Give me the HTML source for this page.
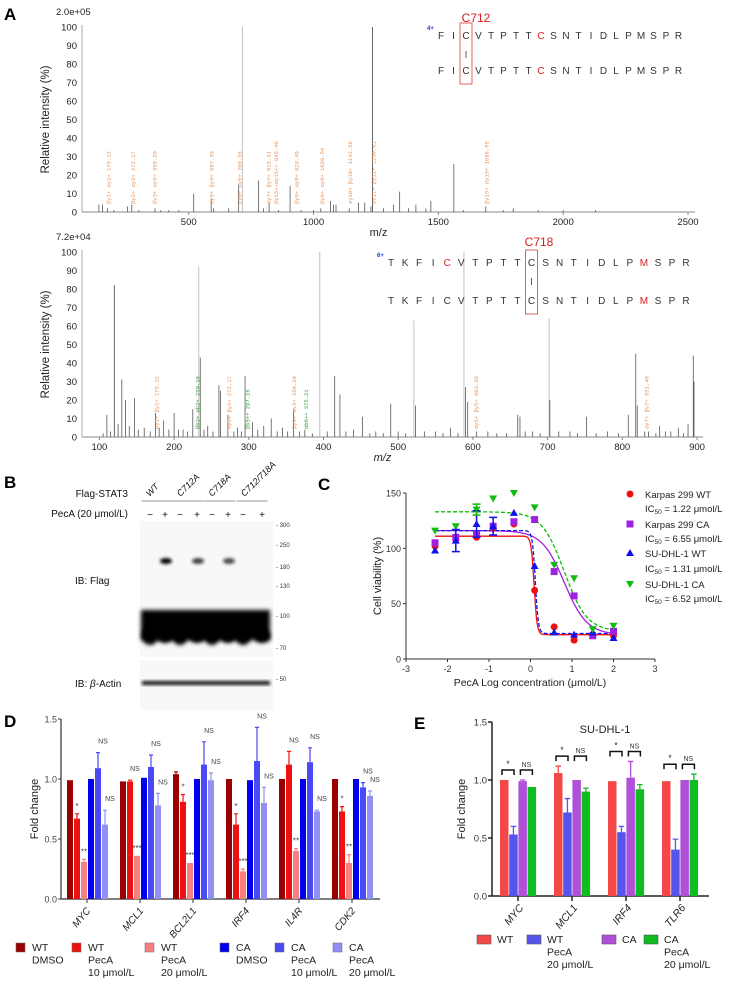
<!DOCTYPE html>
<html><head><meta charset="utf-8">
<style>
html,body{margin:0;padding:0;background:#fff;}
svg{display:block;font-family:"Liberation Sans",sans-serif;}
.lbl{font-weight:bold;font-size:17px;}
</style></head>
<body>
<svg id="fig" width="733" height="982" viewBox="0 0 733 982" xmlns="http://www.w3.org/2000/svg">
<defs>
<filter id="blur1" x="-20%" y="-50%" width="140%" height="200%"><feGaussianBlur stdDeviation="1.6"/></filter>
<filter id="blur2" x="-20%" y="-50%" width="140%" height="200%"><feGaussianBlur stdDeviation="2"/></filter>
</defs>
<text class="lbl" x="4" y="20">A</text>
<text class="lbl" x="4" y="488">B</text>
<text class="lbl" x="318" y="490">C</text>
<text class="lbl" x="4" y="727">D</text>
<text class="lbl" x="414" y="729">E</text>
<g id="specTop"></g>
<g id="specBot"></g>
<g id="blot"></g>
<g id="viab"></g>
<g id="barD"></g>
<g id="barE"></g>
</svg>
<script>
// ---------- DATA ----------
const topMz   = [140,155,175,200,255,272,300,365,388,420,460,520,590,600,660,700,715,780,800,822,860,906,950,1000,1029,1068,1080,1090,1143,1180,1205,1230,1236,1280,1320,1345,1380,1410,1450,1470,1562,1600,1690,1760,1800,1900,2000,2130];
const topInt  = [4,4,2,1,3,4,1,2,1,1,1,10,7,2,2,15,100,17,2,5,1,14,1,1,2,6,4,4,2,5,5,3,100,2,4,11,2,4,2,6,26,1,3,1,2,1,1,1];
const topAnnMz = [175,272,359,587,700,815,845,928,1029,1143,1236,1689];
const topAnnTx = ["βy1+ αy1+ 175.12","βy2+ αy2+ 272.17","βy3+ αy3+ 359.20","αy5+ βy5+ 587.30","βy6+ αy6+ 700.38","αy7+ βy7+ 815.41","βy15++αy15++ 845.40","βy8+ αy8+ 928.49","βy9+ αy9+ 1029.54","αy10+ βy10+ 1143.58","αy11+ βy11+ 1230.61","βy15+ αy15+ 1689.88"];
const topTicks = [500,1000,1500,2000,2500];
const botMz  = [105,110,115,120,125,130,135,140,147,152,160,168,175,180,186,193,200,206,212,218,225,233,235,240,245,252,260,262,272,280,285,290,295,305,312,320,330,338,345,352,360,368,375,385,395,405,415,422,430,440,452,462,470,480,490,500,510,521,523,535,550,560,570,580,588,590,593,605,620,632,645,660,663,670,680,690,702,703,715,730,740,752,765,780,795,808,818,820,830,835,845,850,858,865,875,882,888,895,896];
const botInt = [2,12,3,82,7,31,20,6,21,4,5,3,13,5,9,4,13,4,4,3,15,92,43,4,6,3,28,25,12,3,5,3,33,8,4,6,10,3,5,3,15,3,4,2,100,3,33,23,3,4,11,2,3,2,18,3,2,63,17,3,3,2,5,2,100,27,19,3,3,2,2,12,11,3,3,2,64,20,3,3,2,11,2,3,2,12,45,17,3,3,2,6,3,3,5,2,7,44,30];
const botAnnMz = [175,230,272,297,359,375,603,831];
const botAnnTx = ["αy1+ βy1+ 175.12","βb2+ αb2+ 230.15","αy2+ βy2+ 272.17","βb5++ 297.15","βy3+ αy3+ 359.20","αb6++ 375.21","αy5+ βy5+ 603.30","αy7+ βy7+ 831.40"];
const botAnnC = ["#e8935a","#2e9a2e","#e8935a","#2e9a2e","#e8935a","#2e9a2e","#e8935a","#e8935a"];
const botTicks = [100,200,300,400,500,600,700,800,900];
const yTicksA = [0,10,20,30,40,50,60,70,80,90,100];

const mwLabels = ["300","250","180","130","100","70","50"];
const mwY = [525,545,567,586,616,648,679];
const laneSigns = ["−","+","−","+","−","+","−","+"];
const upperBand = [0.1,1,0.05,0.75,0.1,0.7,0,0.05];

const logConc = [-2.3,-1.8,-1.3,-0.9,-0.4,0.1,0.57,1.05,1.5,2.0];
const kWT = [102,108,110,118,122,62,29,17,22,21];
const kCA = [105,110,113,120,124,126,79,57,21,25];
const sWT = [98,107,122,120,132,84,24,22,24,19];
const sCA = [116,120,135,145,150,137,85,73,27,30];
const fitTop = [111,116,116,133];
const fitBot = [22,22,23,25];
const fitLogIC = [0.087,0.816,0.117,0.814];
const fitHill = [12,1.6,12,1.6];
const legendC = ["Karpas 299 WT","Karpas 299 CA","SU-DHL-1 WT","SU-DHL-1 CA"];
const legendIC = ["1.22","6.55","1.31","6.52"];

const genesD = ["MYC","MCL1","BCL2L1","IRF4","IL4R","CDK2"];
const valsD = [[0.99,0.67,0.31,1.0,1.09,0.62],[0.98,0.98,0.36,1.01,1.10,0.78],[1.04,0.81,0.30,1.0,1.12,0.99],[1.0,0.62,0.23,0.99,1.15,0.80],[1.0,1.12,0.40,1.0,1.14,0.73],[1.0,0.73,0.30,1.0,0.93,0.86]];
const errD = [[0,0.04,0.02,0,0.13,0.12],[0,0.01,0,0,0.10,0.10],[0.02,0.06,0,0,0.19,0.06],[0,0.09,0.02,0,0.28,0.13],[0,0.11,0.02,0,0.12,0.01],[0,0.04,0.07,0,0.04,0.04]];
const sigD = [["","*","**","","NS","NS"],["","NS","***","","NS","NS"],["","*","***","","NS","NS"],["","*","***","","NS","NS"],["","NS","**","","NS","NS"],["","*","**","","NS","NS"]];
const ticksD = [0,0.5,1.0,1.5];
const tickLabD = ["0.0","0.5","1.0","1.5"];

const genesE = ["MYC","MCL1","IRF4","TLR6"];
const valsE = [[1.0,0.53,0.99,0.94],[1.06,0.72,1.0,0.90],[0.99,0.55,1.02,0.92],[0.99,0.40,1.0,1.0]];
const errE = [[0,0.07,0.01,0],[0.06,0.12,0,0.03],[0,0.05,0.14,0.04],[0,0.09,0,0.05]];
const sigE = [["*","NS"],["*","NS"],["*","NS"],["*","NS"]];

// ---------- helpers ----------
const NS="http://www.w3.org/2000/svg";
function mk(parent,tag,attrs,text){const e=document.createElementNS(NS,tag);for(const k in attrs)e.setAttribute(k,attrs[k]);if(text!==undefined)e.textContent=text;parent.appendChild(e);return e;}

// ---------- Spectra ----------
function spectrum(g,o){
  const xs=v=>o.x0+(v-o.d0)/(o.d1-o.d0)*(o.x1-o.x0);
  const ys=v=>o.y0-(v/100)*(o.y0-o.y100);
  let t=mk(g,'text',{x:o.x0-26,y:o.y100-12,'font-size':9.5,fill:'#222'},o.scale);
  
  
  let ax=mk(g,'line',{x1:o.x0,y1:o.y100-2,x2:o.x0,y2:o.y0,stroke:'#aaa','stroke-width':1});
  
  
  let bx=mk(g,'line',{x1:o.x0,y1:o.y0,x2:o.xEnd,y2:o.y0,stroke:'#888','stroke-width':1});
  
  
  yTicksA.forEach(v=>{
    let l=mk(g,'text',{x:o.x0-5,y:ys(v)+3.5,'font-size':9.5,'text-anchor':'end',fill:'#222'},v);
    
    
  });
  o.ticks.forEach(v=>{
    mk(g,'line',{x1:xs(v),y1:o.y0,x2:xs(v),y2:o.y0+3,stroke:'#888'});
    let l=mk(g,'text',{x:xs(v),y:o.y0+13,'font-size':9.5,'text-anchor':'middle',fill:'#222'},v);
    
    
  });
  let yl=mk(g,'text',{transform:`translate(${o.x0-33},${(o.y0+o.y100)/2}) rotate(-90)`,'font-size':11.5,'text-anchor':'middle',fill:'#222'},'Relative intensity (%)');
  
  
  let xl=mk(g,'text',{x:(o.x0+o.xEnd)/2-10,y:o.y0+24,'font-size':11,'text-anchor':'middle',fill:'#222','font-style':o.italic?'italic':'normal'},'m/z');
  
  
  o.mz.forEach((m,i)=>{
    const big=o.inten[i]>50;
    let p=mk(g,'line',{x1:xs(m),y1:o.y0,x2:xs(m),y2:ys(o.inten[i]),stroke:big&&o.light.includes(m)?'#bbb':'#555','stroke-width':big?0.9:0.8});
    
    
  });
  o.annMz.forEach((m,i)=>{
    const yy=o.y0-8;
    let a=mk(g,'text',{transform:`translate(${xs(m)+3},${yy}) rotate(-90)`,'font-size':5.5,fill:o.annC?o.annC[i]:'#e8935a','font-family':'Liberation Mono, monospace'},o.annTx[i]);
    
    
  });
}
spectrum(document.getElementById('specTop'),{x0:82,x1:688,xEnd:695,d0:72.5,d1:2500,y0:212,y100:27,mz:topMz,inten:topInt,ticks:topTicks,scale:'2.0e+05',annMz:topAnnMz,annTx:topAnnTx,light:[715],italic:false});
spectrum(document.getElementById('specBot'),{x0:82,x1:697,xEnd:703,d0:76.7,d1:900,y0:437,y100:252,mz:botMz,inten:botInt,ticks:botTicks,scale:'7.2e+04',annMz:botAnnMz,annTx:botAnnTx,annC:botAnnC,light:[233,395,521,588,702],italic:true});

// peptide sequences
function peptide(g,letters,x0,dx,ys,redIdx,boxIdx,title,tx,charge,cy){
  let ti=mk(g,'text',{x:tx,y:cy,'font-size':12,fill:'#d42020','text-anchor':'middle'},title);
  
  
  let ch=mk(g,'text',{x:x0-14,y:ys[0]-9,'font-size':6,fill:'#2233dd','font-weight':'bold'},charge);
  
  
  ys.forEach((y,r)=>{
    letters.forEach((L,i)=>{
      let red=redIdx[r].includes(i);
      let t=mk(g,'text',{x:x0+i*dx,y:y,'font-size':10,'text-anchor':'middle',fill:red?'#d42020':'#333'},L);
      
      
    });
  });
  const bx=x0+boxIdx*dx;
  let b=mk(g,'rect',{x:bx-6,y:ys[0]-16,width:12,height:ys[1]-ys[0]+26,fill:'none',stroke:'#e06060','stroke-width':1});
  
  
  mk(g,'line',{x1:bx,y1:ys[0]+12,x2:bx,y2:ys[0]+19,stroke:'#333','stroke-width':0.8});
}
const pepTop="FICVTPTTCSNTIDLPMSPR".split("");
peptide(document.getElementById('specTop'),pepTop,441,12.5,[39,74],[[8],[8]],2,"C712",476,"4+",22);
const pepBot="TKFICVTPTTCSNTIDLPMSPR".split("");
peptide(document.getElementById('specBot'),pepBot,391,14.05,[266,304],[[4,18],[18]],10,"C718",539,"6+",246);

// ---------- Western blot ----------
(function(){
  const g=document.getElementById('blot');
  const laneX=[150,165,180,197,212,228,243,262];
  let h=mk(g,'text',{x:128,y:497,'font-size':10,'text-anchor':'end',fill:'#111'},'Flag-STAT3');
  
  
  let p=mk(g,'text',{x:128,y:517,'font-size':10,'text-anchor':'end',fill:'#111'},'PecA (20 μmol/L)');
  
  
  ["WT","C712A","C718A","C712/718A"].forEach((s,i)=>{
    const cx=(laneX[2*i]+laneX[2*i+1])/2;
    mk(g,'line',{x1:cx-16,y1:501,x2:cx+15,y2:501,stroke:'#aaa','stroke-width':1.2});
    let t=mk(g,'text',{transform:`translate(${cx-8},${497}) rotate(-45)`,'font-size':9,'font-style':'italic',fill:'#111'},s);
    
    
  });
  laneSigns.forEach((s,i)=>{
    let t=mk(g,'text',{x:laneX[i],y:518,'font-size':10,'text-anchor':'middle',fill:'#111'},s);
    
    
  });
  mk(g,'rect',{x:140,y:521,width:133,height:136,fill:'#f8f8f8'});
  mk(g,'rect',{x:140,y:660,width:133,height:50,fill:'#f8f8f8'});
  let mb=mk(g,'rect',{x:141,y:610,width:129,height:30,fill:'#000',filter:'url(#blur2)'});
  
  
  laneX.forEach((x,i)=>{
    mk(g,'ellipse',{cx:x,cy:636,rx:8,ry:9-(i%2)*2,fill:'#000',filter:'url(#blur2)'});
    if(upperBand[i]>0.3){let b=mk(g,'ellipse',{cx:x+1,cy:561,rx:6,ry:3,fill:'#000','opacity':upperBand[i],filter:'url(#blur1)'});
      
      }
  });
  let ab=mk(g,'rect',{x:142,y:681,width:128,height:4,fill:'#111',filter:'url(#blur1)'});
  
  
  mwLabels.forEach((m,i)=>{
    let t=mk(g,'text',{x:276,y:mwY[i]+2,'font-size':6,fill:'#333'},'- '+m);
    
    
  });
  let f=mk(g,'text',{x:75,y:584,'font-size':10,fill:'#111'},'IB: Flag');
  
  
  let a=mk(g,'text',{x:75,y:687,'font-size':10,fill:'#111'});
  
  
  a.innerHTML='IB: <tspan font-style="italic">β</tspan>-Actin';
})();

// ---------- Viability chart ----------
(function(){
  const g=document.getElementById('viab');
  const X0=406,X1=655,Y0=659,Y150=493;
  const xs=v=>X0+(v+3)/6*(X1-X0);
  const ys=v=>Y0-v/150*(Y0-Y150);
  mk(g,'line',{x1:X0,y1:Y150,x2:X0,y2:Y0,stroke:'#333'});
  mk(g,'line',{x1:X0,y1:Y0,x2:X1,y2:Y0,stroke:'#333'});
  [0,50,100,150].forEach(v=>{mk(g,'line',{x1:X0-3,y1:ys(v),x2:X0,y2:ys(v),stroke:'#333'});
    let t=mk(g,'text',{x:X0-5,y:ys(v)+3.5,'font-size':9,'text-anchor':'end',fill:'#333'},v);
    
    });
  [-3,-2,-1,0,1,2,3].forEach(v=>{mk(g,'line',{x1:xs(v),y1:Y0,x2:xs(v),y2:Y0+3,stroke:'#333'});
    let t=mk(g,'text',{x:xs(v),y:Y0+13,'font-size':9,'text-anchor':'middle',fill:'#333'},v);
    
    });
  let xl=mk(g,'text',{x:530,y:686,'font-size':10.5,'text-anchor':'middle',fill:'#222'},'PecA Log concentration (μmol/L)');
  
  
  let yl=mk(g,'text',{transform:`translate(381,576) rotate(-90)`,'font-size':11,'text-anchor':'middle',fill:'#222'},'Cell viability (%)');
  
  
  const cols=['#ee1111','#a020e0','#1111ee','#11bb11'];
  const dash=[null,null,'4,2','4,2'];
  const series=[kWT,kCA,sWT,sCA];
  series.forEach((s,k)=>{
    let d='';
    for(let v=-2.3;v<=2.0001;v+=0.02){const y=fitBot[k]+(fitTop[k]-fitBot[k])/(1+Math.pow(10,(v-fitLogIC[k])*fitHill[k]));d+=(d?'L':'M')+xs(v).toFixed(1)+','+ys(y).toFixed(1);}
    const at={d:d,fill:'none',stroke:cols[k],'stroke-width':1.3};if(dash[k])at['stroke-dasharray']=dash[k];
    let c=mk(g,'path',at);
    
    
  });
  function marker(k,x,y){
    let m;
    if(k===0)m=mk(g,'circle',{cx:x,cy:y,r:3.5,fill:cols[0]});
    else if(k===1)m=mk(g,'rect',{x:x-3.5,y:y-3.5,width:7,height:7,fill:cols[1]});
    else if(k===2)m=mk(g,'path',{d:`M${x},${y-4}L${x+4},${y+3}L${x-4},${y+3}Z`,fill:cols[2]});
    else m=mk(g,'path',{d:`M${x},${y+4}L${x+4},${y-3}L${x-4},${y-3}Z`,fill:cols[3]});
    return m;
  }
  series.forEach((s,k)=>{
    s.forEach((v,i)=>{
      let m=marker(k,xs(logConc[i]),ys(v));
      
      
    });
  });
  [[2,1,10],[2,2,12],[2,3,8],[3,2,5]].forEach(e=>{
    const k=e[0],i=e[1],er=e[2];const x=xs(logConc[i]),v=series[k][i];
    mk(g,'path',{d:`M${x},${ys(v-er)}L${x},${ys(v+er)}M${x-4},${ys(v-er)}L${x+4},${ys(v-er)}M${x-4},${ys(v+er)}L${x+4},${ys(v+er)}`,stroke:cols[k],'stroke-width':1.5,fill:'none'});
  });
  const ly=[[497,507],[527,537],[556,567],[587,597]];
  legendC.forEach((s,k)=>{
    let m=marker(k,630,ly[k][0]-3);
    
    
    let t=mk(g,'text',{x:645,y:ly[k][0]+1,'font-size':9.5,fill:'#222'},s);
    
    
    let t2=mk(g,'text',{x:645,y:ly[k][1]+5,'font-size':9.5,fill:'#222'});
    
    
    t2.innerHTML='IC<tspan font-size="6.5" dy="2">50</tspan><tspan dy="-2"> = '+legendIC[k]+' μmol/L</tspan>';
  });
})();

// ---------- Bar chart D ----------
(function(){
  const g=document.getElementById('barD');
  const X0=61,XE=380,Y0=899,U=120;
  const ys=v=>Y0-v*U;
  const cols=['#9b0000','#ee1111','#f88080','#0000ee','#4a4af5','#9090f5'];
  mk(g,'line',{x1:X0,y1:ys(1.5),x2:X0,y2:Y0,stroke:'#333','stroke-width':1.2});
  mk(g,'line',{x1:X0,y1:Y0,x2:XE,y2:Y0,stroke:'#333','stroke-width':1.2});
  ticksD.forEach((v,i)=>{mk(g,'line',{x1:X0-3,y1:ys(v),x2:X0,y2:ys(v),stroke:'#333'});
    let t=mk(g,'text',{x:X0-4,y:ys(v)+3.5,'font-size':9,'text-anchor':'end',fill:'#444'},tickLabD[i]);
    
    });
  let yl=mk(g,'text',{transform:`translate(38,${ys(0.75)}) rotate(-90)`,'font-size':11,'text-anchor':'middle',fill:'#222'},'Fold change');
  
  
  genesD.forEach((gn,gi)=>{
    const gx=67+gi*53;
    valsD[gi].forEach((v,bi)=>{
      const x=gx+bi*7;
      let r=mk(g,'rect',{x:x,y:ys(v),width:6,height:v*U,fill:cols[bi]});
      
      
      const e=errD[gi][bi];
      if(e>0){mk(g,'path',{d:`M${x+3},${ys(v)}L${x+3},${ys(v+e)}M${x+1},${ys(v+e)}L${x+5},${ys(v+e)}`,stroke:cols[bi],'stroke-width':1.2,fill:'none'});}
      const s=sigD[gi][bi];
      if(s){let t=mk(g,'text',{x:x+(s==='NS'?8:3),y:ys(v+e)-(s==='NS'?9:5),'font-size':s==='NS'?7:8,'text-anchor':'middle',fill:'#444'},s);
        
        }
    });
    mk(g,'line',{x1:gx+20,y1:Y0,x2:gx+20,y2:Y0+4,stroke:'#333'});
    let t=mk(g,'text',{transform:`translate(${gx+24},${Y0+12}) rotate(-50)`,'font-size':10,'font-style':'italic','text-anchor':'end',fill:'#222'},gn);
    
    
  });
  const legX=[16,72,145,220,275,333];
  const legTx=[["WT","DMSO"],["WT","PecA","10 μmol/L"],["WT","PecA","20 μmol/L"],["CA","DMSO"],["CA","PecA","10 μmol/L"],["CA","PecA","20 μmol/L"]];
  legX.forEach((x,i)=>{
    let r=mk(g,'rect',{x:x,y:943,width:9,height:9,fill:cols[i],stroke:'#666','stroke-width':0.5});
    
    
    legTx[i].forEach((s,j)=>{
      let t=mk(g,'text',{x:x+16,y:951+j*12.5,'font-size':10.5,fill:'#222'},s);
      
      
    });
  });
})();

// ---------- Bar chart E ----------
(function(){
  const g=document.getElementById('barE');
  const X0=492,XE=709,Y0=896,U=116;
  const ys=v=>Y0-v*U;
  const cols=['#f44848','#5555ee','#b050d8','#11bb22'];
  mk(g,'line',{x1:X0,y1:ys(1.5),x2:X0,y2:Y0,stroke:'#222','stroke-width':1.5});
  mk(g,'line',{x1:X0,y1:Y0,x2:XE,y2:Y0,stroke:'#222','stroke-width':1.5});
  ticksD.forEach((v,i)=>{mk(g,'line',{x1:X0-4,y1:ys(v),x2:X0,y2:ys(v),stroke:'#222','stroke-width':1.5});
    let t=mk(g,'text',{x:X0-5,y:ys(v)+3.5,'font-size':9.5,'text-anchor':'end',fill:'#333'},tickLabD[i]);
    
    });
  let yl=mk(g,'text',{transform:`translate(465,${ys(0.75)}) rotate(-90)`,'font-size':11,'text-anchor':'middle',fill:'#222'},'Fold change');
  
  
  let ti=mk(g,'text',{x:605,y:733,'font-size':11,'text-anchor':'middle',fill:'#222'},'SU-DHL-1');
  
  
  genesE.forEach((gn,gi)=>{
    const gx=500+gi*54;
    let tops=[];
    valsE[gi].forEach((v,bi)=>{
      const x=gx+bi*9.2;
      let r=mk(g,'rect',{x:x,y:ys(v),width:8.5,height:v*U,fill:cols[bi]});
      
      
      const e=errE[gi][bi];
      tops.push(v+e);
      if(e>0)mk(g,'path',{d:`M${x+4.25},${ys(v)}L${x+4.25},${ys(v+e)}M${x+1.5},${ys(v+e)}L${x+7},${ys(v+e)}`,stroke:cols[bi],'stroke-width':1.3,fill:'none'});
    });
    const mx=Math.max(...tops);
    [0,1].forEach(p=>{
      const bx=gx+p*18.4+2, by=ys(mx)-10;
      mk(g,'path',{d:`M${bx},${by+5}L${bx},${by}L${bx+12},${by}L${bx+12},${by+5}`,stroke:'#111','stroke-width':1.5,fill:'none'});
      let t=mk(g,'text',{x:bx+6,y:by-3,'font-size':p?7:9,'text-anchor':'middle',fill:'#333'},sigE[gi][p]);
      
      
    });
    mk(g,'line',{x1:gx+18,y1:Y0,x2:gx+18,y2:Y0+5,stroke:'#222','stroke-width':1.5});
    let t=mk(g,'text',{transform:`translate(${gx+24},${Y0+12}) rotate(-50)`,'font-size':10.5,'font-style':'italic','text-anchor':'end',fill:'#222'},gn);
    
    
  });
  const legX=[477,527,602,644];
  const legTx=[["WT"],["WT","PecA","20 μmol/L"],["CA"],["CA","PecA","20 μmol/L"]];
  legX.forEach((x,i)=>{
    let r=mk(g,'rect',{x:x,y:935,width:14,height:9,fill:cols[i],stroke:'#555','stroke-width':0.6});
    
    
    legTx[i].forEach((s,j)=>{
      let t=mk(g,'text',{x:x+20,y:943+j*12.5,'font-size':10.5,fill:'#222'},s);
      
      
    });
  });
})();
</script>
</body></html>
